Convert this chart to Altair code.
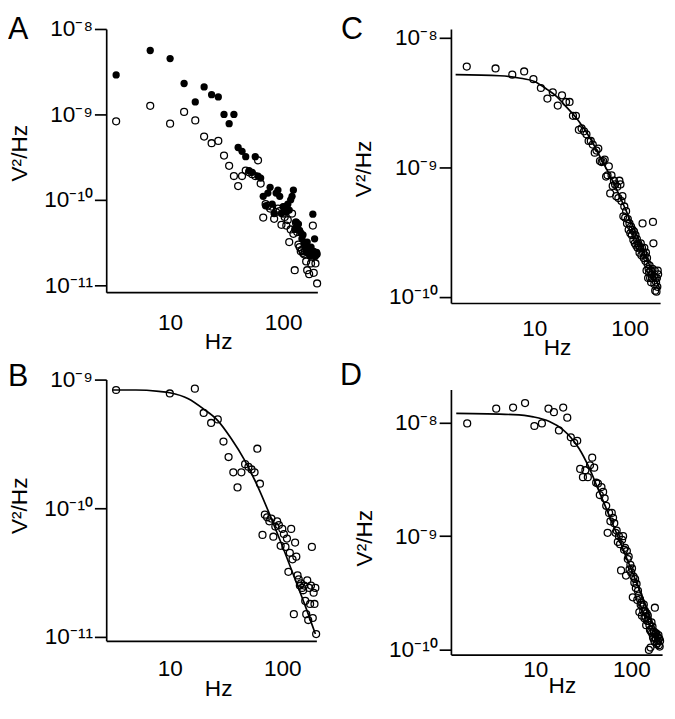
import altair as alt
import pandas as pd

FONT = "Liberation Sans"

# ---------------- data ----------------
# Panels A and B: frequency bins (Hz)
freq_ab = [3.33, 6.67, 10.0, 13.3, 16.7, 20.0, 23.3, 26.7, 30.0, 33.3,
           36.7, 40.0, 43.3, 46.7, 50.0, 53.3, 56.7, 60.0, 63.3, 66.7,
           70.0, 73.3, 76.7, 80.0, 83.3, 86.7, 90.0, 93.3, 96.7, 100.0,
           103.3, 106.7, 110.0, 113.3, 116.7, 120.0, 123.3, 126.7, 130.0, 133.3,
           136.7, 140.0, 143.3, 146.7, 150.0, 153.3, 156.7, 160.0, 163.3, 166.7,
           170.0, 173.3, 176.7, 180.0, 183.3, 186.7, 190.0, 193.3, 196.7, 200.0]

# Panel A, filled circles (V^2/Hz)
a_filled = [2.9e-9, 5.6e-9, 4.5e-9, 2.3e-9, 1.4e-9, 2.1e-9, 1.7e-9, 1.6e-9, 1.0e-9, 7.8e-10,
            1.0e-9, 4.1e-10, 3.7e-10, 3.2e-10, 2.2e-10, 2.1e-10, 3.2e-10, 1.9e-10, 1.8e-10, 1.1e-10,
            8.5e-11, 1.2e-10, 1.4e-10, 8.9e-11, 6.9e-11, 1.2e-10, 1.3e-10, 1.1e-10, 6.9e-11, 8.3e-11,
            8.3e-11, 7.2e-11, 8.9e-11, 7.6e-11, 1.0e-10, 1.1e-10, 1.3e-10, 4.5e-11, 5.5e-11, 4.9e-11,
            5.2e-11, 4.4e-11, 4.1e-11, 3.5e-11, 3.9e-11, 3.0e-11, 2.8e-11, 2.5e-11, 3.2e-11, 2.4e-11,
            2.6e-11, 2.2e-11, 2.8e-11, 2.4e-11, 6.8e-11, 2.5e-11, 3.5e-11, 2.2e-11, 2.4e-11, 2.3e-11]

# Panels A and B, open circles (V^2/Hz)
ab_open = [8.3e-10, 1.26e-9, 7.8e-10, 1.07e-9, 8.5e-10, 5.5e-10, 4.6e-10, 4.9e-10, 3.3e-10, 2.5e-10,
           1.9e-10, 1.45e-10, 1.9e-10, 2.2e-10, 2.1e-10, 2.0e-10, 1.9e-10, 2.9e-10, 1.55e-10, 6.2e-11,
           8.9e-11, 8.5e-11, 7.9e-11, 8.3e-11, 6.0e-11, 7.2e-11, 7.9e-11, 7.4e-11, 5.1e-11, 6.9e-11,
           6.3e-11, 5.0e-11, 5.8e-11, 3.2e-11, 4.5e-11, 6.9e-11, 4.0e-11, 1.5e-11, 5.4e-11, 4.2e-11,
           3.0e-11, 2.8e-11, 2.5e-11, 2.6e-11, 2.4e-11, 2.3e-11, 2.5e-11, 1.9e-11, 1.5e-11, 2.75e-11,
           1.35e-11, 2.4e-11, 1.8e-11, 2.5e-11, 5.0e-11, 1.4e-11, 2.2e-11, 1.8e-11, 2.4e-11, 1.05e-11]

# Panel B fitted curve
b_curve_f = [3.1, 5.0, 8.0, 10.0, 14.6, 20.0, 26.7, 35.0, 45.8, 60.0, 80.0, 100.0, 130.0, 160.0, 197.0]
b_curve_p = [8.3e-10, 8.3e-10, 8.1e-10, 7.9e-10, 7.1e-10, 5.9e-10, 4.8e-10, 3.5e-10, 2.4e-10,
             1.5e-10, 8.3e-11, 5.1e-11, 2.8e-11, 1.74e-11, 1.05e-11]

# Panels C and D: frequency bins (Hz)
freq_cd = [1.95, 3.91, 5.86, 7.81, 9.77, 11.7, 13.7, 15.6, 17.6, 19.5,
           21.5, 23.4, 25.4, 27.3, 29.3, 31.3, 33.2, 35.2, 37.1, 39.1,
           41.0, 43.0, 44.9, 46.9, 48.8, 50.8, 52.7, 54.7, 56.6, 58.6,
           60.5, 62.5, 64.5, 66.4, 68.4, 70.3, 72.3, 74.2, 76.2, 78.1,
           80.1, 82.0, 84.0, 85.9, 87.9, 89.8, 91.8, 93.8, 95.7, 97.7,
           99.6, 101.6, 103.5, 105.5, 107.4, 109.4, 111.3, 113.3, 115.2, 117.2,
           119.1, 121.1, 123.0, 125.0, 127.0, 128.9, 130.9, 132.8, 134.8, 136.7,
           138.7, 140.6, 142.6, 144.5, 146.5, 148.4, 150.4, 152.3, 154.3, 156.3,
           158.2, 160.2, 162.1, 164.1, 166.0, 168.0, 169.9, 171.9, 173.8, 175.8,
           177.7, 179.7, 181.6, 183.6, 185.5, 187.5, 189.5, 191.4, 193.4, 195.3,
           197.3, 199.2]

c_open = [6.0e-9, 5.8e-9, 5.2e-9, 5.5e-9, 4.8e-9, 4.1e-9, 3.4e-9, 3.8e-9, 3.0e-9, 3.6e-9,
          3.2e-9, 3.2e-9, 2.5e-9, 2.5e-9, 1.95e-9, 2.0e-9, 1.9e-9, 1.8e-9, 1.6e-9, 1.6e-9,
          1.5e-9, 1.3e-9, 1.35e-9, 1.4e-9, 1.12e-9, 1.1e-9, 1.12e-9, 1.15e-9, 8.5e-10, 8.7e-10,
          1.02e-9, 6.3e-10, 8.7e-10, 7.2e-10, 7.9e-10, 7.4e-10, 6.0e-10, 7.1e-10, 5.8e-10, 7.9e-10,
          7.4e-10, 5.5e-10, 6.0e-10, 4.2e-10, 5.0e-10, 4.1e-10, 4.6e-10, 3.7e-10, 4.0e-10, 3.3e-10,
          3.7e-10, 3.1e-10, 3.5e-10, 3.0e-10, 3.3e-10, 2.75e-10, 3.2e-10, 2.6e-10, 3.0e-10, 2.5e-10,
          2.8e-10, 2.4e-10, 2.6e-10, 2.5e-10, 2.2e-10, 2.4e-10, 2.6e-10, 2.1e-10, 2.4e-10, 3.7e-10,
          2.2e-10, 2.0e-10, 2.4e-10, 2.1e-10, 1.9e-10, 2.2e-10, 1.6e-10, 2.0e-10, 1.8e-10, 1.4e-10,
          1.65e-10, 1.55e-10, 1.75e-10, 1.4e-10, 1.6e-10, 1.3e-10, 1.5e-10, 1.4e-10, 1.65e-10, 3.8e-10,
          2.6e-10, 1.45e-10, 1.26e-10, 1.6e-10, 1.12e-10, 1.4e-10, 1.3e-10, 1.1e-10, 1.4e-10, 1.2e-10,
          1.6e-10, 1.5e-10]

c_curve_f = [1.49, 4.3, 6.9, 10.0, 13.6, 17.3, 21.0, 28.9, 39.6, 50.0, 69.0, 90.0,
             120.0, 150.0, 180.0, 208.0]
c_curve_p = [5.2e-9, 5.1e-9, 4.9e-9, 4.6e-9, 4.0e-9, 3.5e-9, 3.0e-9, 2.3e-9, 1.62e-9, 1.17e-9,
             7.4e-10, 4.8e-10, 2.95e-10, 2.0e-10, 1.48e-10, 1.15e-10]

d_open = [9.8e-9, 1.32e-8, 1.35e-8, 1.48e-8, 9.3e-9, 9.8e-9, 1.32e-8, 1.23e-8, 8.5e-9, 1.35e-8,
          1.1e-8, 7.4e-9, 6.6e-9, 6.9e-9, 3.9e-9, 3.3e-9, 3.8e-9, 3.3e-9, 4.2e-9, 4.9e-9,
          4.0e-9, 2.95e-9, 2.9e-9, 2.3e-9, 2.7e-9, 2.45e-9, 2.15e-9, 1.85e-9, 1.07e-9, 1.6e-9,
          1.35e-9, 1.6e-9, 1.45e-9, 1.3e-9, 1.07e-9, 1.12e-9, 8.9e-10, 1.0e-9, 8.5e-10, 5.0e-10,
          9.3e-10, 1.0e-9, 7.6e-10, 7.9e-10, 4.5e-10, 7.4e-10, 6.3e-10, 6.6e-10, 5.1e-10, 5.6e-10,
          4.8e-10, 5.2e-10, 2.9e-10, 4.4e-10, 3.9e-10, 4.2e-10, 3.5e-10, 3.8e-10, 2.75e-10, 3.3e-10,
          3.0e-10, 2.15e-10, 2.8e-10, 2.5e-10, 2.6e-10, 2.0e-10, 2.4e-10, 2.2e-10, 2.5e-10, 1.9e-10,
          2.2e-10, 1.95e-10, 1.65e-10, 2.1e-10, 1.8e-10, 2.0e-10, 1.8e-10, 1.0e-10, 1.65e-10, 1.5e-10,
          1.05e-10, 1.45e-10, 1.75e-10, 1.4e-10, 1.6e-10, 1.3e-10, 1.26e-10, 1.45e-10, 1.2e-10, 2.35e-10,
          1.4e-10, 1.26e-10, 1.4e-10, 1.12e-10, 1.15e-10, 1.3e-10, 1.2e-10, 1.35e-10, 1.1e-10, 1.26e-10,
          1.07e-10, 1.2e-10]

d_curve_f = [1.5, 5.9, 9.5, 14.0, 19.2, 23.3, 28.5, 35.8, 45.0, 55.0, 81.5, 112.0, 141.0, 178.0, 200.0]
d_curve_p = [1.2e-8, 1.17e-8, 1.12e-8, 1.02e-8, 8.7e-9, 7.4e-9, 5.9e-9, 4.1e-9, 2.6e-9, 1.74e-9,
             7.8e-10, 4.0e-10, 2.45e-10, 1.5e-10, 1.2e-10]

x_ticks = [10, 100]

# ---------------- helpers ----------------
YLABELS = ("datum.value < 5e-11 ? '10⁻¹¹' : datum.value < 5e-10 ? '10⁻¹⁰' : "
           "datum.value < 5e-9 ? '10⁻⁹' : '10⁻⁸'")


def panel(letter, width, height, xdom, ydom, yvals, pts, curve, letter_x, letter_y,
          ytx, yty, xlp, xtx, xty, ymax=None):
    xs = alt.Scale(type="log", domain=xdom, nice=False)
    ys = alt.Scale(type="log", domain=ydom, nice=False)
    xaxis = alt.Axis(values=x_ticks, format="d", tickSize=0, ticks=False,
                     labelPadding=xlp, labelFontSize=23, labelFont=FONT, labelColor="black",
                     labelFlush=False, domainColor="black", domainWidth=1.7, grid=False,
                     title="Hz", titleFont=FONT, titleFontSize=23, titleFontWeight="normal",
                     titleColor="black", titleX=xtx, titleY=xty, titleBaseline="top")
    yaxis = alt.Axis(values=yvals, labelExpr=YLABELS, tickSize=12, tickWidth=1.7,
                     tickColor="black", labelPadding=2, labelFontSize=23, labelFont=FONT,
                     labelColor="black", labelFlush=False, labelBaseline="middle",
                     domainColor="black", domainWidth=1.7, grid=False,
                     title="V²/Hz", titleFont=FONT, titleFontSize=23, titleFontWeight="normal",
                     titleColor="black", titleX=ytx, titleY=yty, titleBaseline="alphabetic")
    enc = dict(x=alt.X("f:Q", scale=xs, axis=xaxis), y=alt.Y("p:Q", scale=ys, axis=yaxis))
    layers = []
    for (freqs, vals, filled) in pts:
        df = pd.DataFrame({"f": freqs, "p": vals})
        ch = alt.Chart(df)
        if ymax is not None:
            ch = ch.transform_filter(f"datum.p <= {ymax}")
        if filled:
            layers.append(ch.mark_circle(color="black", size=55, opacity=1).encode(**enc))
        else:
            layers.append(ch.mark_point(shape="circle", filled=False, color="black", size=50,
                                        strokeWidth=1.3, opacity=1).encode(**enc))
    if curve is not None:
        cdf = pd.DataFrame({"f": curve[0], "p": curve[1]})
        layers.append(alt.Chart(cdf).mark_line(color="black", strokeWidth=1.7,
                                               interpolate="monotone").encode(**enc))
    ldf = pd.DataFrame({"t": [letter]})
    layers.append(alt.Chart(ldf).mark_text(align="left", baseline="top", fontSize=31,
                                           font=FONT, color="black")
                  .encode(text="t:N", x=alt.value(letter_x), y=alt.value(letter_y)))
    return alt.layer(*layers).properties(width=width, height=height)


pA = panel("A", 215, 268, [2.72, 201], [8.3e-12, 1e-8], [1e-8, 1e-9, 1e-10, 1e-11],
           [(freq_ab, a_filled, True), (freq_ab, ab_open, False)], None,
           -100, -14, -81, 126, 20, 114, 39)
pB = panel("B", 214, 266, [2.72, 201], [9.3e-12, 1e-9], [1e-9, 1e-10, 1e-11],
           [(freq_ab, ab_open, False)], (b_curve_f, b_curve_p),
           -100, -17, -81, 128, 17, 114, 38, ymax=1e-9)
pC = panel("C", 213, 279, [1.33, 209], [9.0e-11, 1.17e-8], [1e-8, 1e-9, 1e-10],
           [(freq_cd, c_open, False)], (c_curve_f, c_curve_p),
           -112, -14, -82, 142, 15, 108, 34)
pD = panel("D", 215, 270, [1.32, 209], [9.1e-11, 1.95e-8], [1e-8, 1e-9, 1e-10],
           [(freq_cd, d_open, False)], (d_curve_f, d_curve_p),
           -113, -28, -81, 151, 4, 113, 21)

left = alt.vconcat(pA, pB, spacing=9)
right = alt.vconcat(pC, pD, spacing=2)
chart = (alt.hconcat(left, right, spacing=17)
         .properties(padding=0, background="white")
         .configure_view(stroke=None))

chart.save("out.html", embed_options={"renderer": "svg", "actions": False})
